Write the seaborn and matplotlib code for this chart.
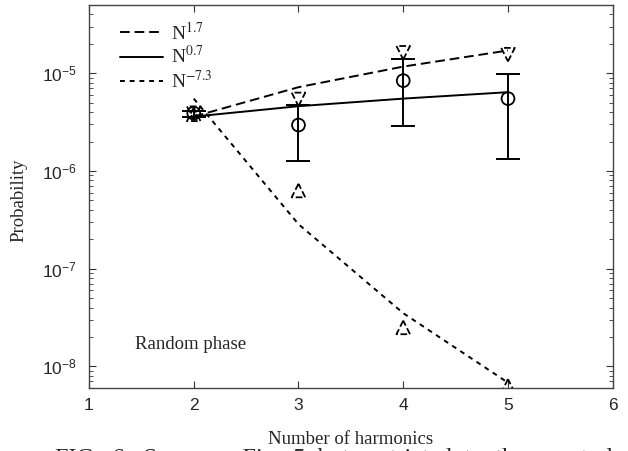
import matplotlib
matplotlib.use('Agg')
import matplotlib.pyplot as plt
import seaborn as sns
from matplotlib.lines import Line2D

# 数据
harmonics = [2, 3, 4, 5]
p_circle = [3.9e-6, 2.95e-6, 8.4e-6, 5.5e-6]
err_lo = [3.55e-6, 1.26e-6, 2.86e-6, 1.31e-6]
err_hi = [4.15e-6, 4.7e-6, 1.41e-5, 9.9e-6]
p_down = [3.9e-6, 5.4e-6, 1.62e-5, 1.55e-5]
p_up = [3.8e-6, 6.3e-7, 2.5e-8, 6.3e-9]
fit_17 = [3.6e-6, 7.2e-6, 1.17e-5, 1.71e-5]
fit_07 = [3.6e-6, 4.6e-6, 5.5e-6, 6.4e-6]
fit_m73 = [5.5e-6, 2.85e-7, 3.5e-8, 6.8e-9]
fit_labels = [r'N$^{1.7}$', r'N$^{0.7}$', r'N$^{-7.3}$']

sns.set_style('ticks')
plt.rcParams['font.family'] = ['Liberation Sans', 'DejaVu Sans']

fig = plt.figure(figsize=(6.28, 4.51), dpi=100)
ax = fig.add_axes([0.1417, 0.1397, 0.8340, 0.8493])

long_dash = (0, (5, 2.5))
short_dash = (0, (2.5, 2.5))

sns.lineplot(x=harmonics, y=fit_17, ax=ax, color='k', lw=1.4, linestyle=long_dash)
sns.lineplot(x=harmonics, y=fit_07, ax=ax, color='k', lw=1.4, linestyle='-')
sns.lineplot(x=harmonics, y=fit_m73, ax=ax, color='k', lw=1.4, linestyle=short_dash)

# 误差棒
yerr = [[c - lo for c, lo in zip(p_circle, err_lo)],
        [hi - c for c, hi in zip(p_circle, err_hi)]]
ax.errorbar(harmonics, p_circle, yerr=yerr, fmt='none', ecolor='k',
            elinewidth=1.4, capsize=8.3, capthick=1.4)

sns.scatterplot(x=harmonics, y=p_circle, ax=ax, marker='o', s=85,
                facecolors='none', edgecolor='k', linewidth=1.3, zorder=5)
sns.scatterplot(x=harmonics, y=p_down, ax=ax, marker='v', s=95,
                facecolors='none', edgecolor='k', linewidth=1.3,
                linestyle='--', zorder=5)
sns.scatterplot(x=harmonics, y=p_up, ax=ax, marker='^', s=95,
                facecolors='none', edgecolor='k', linewidth=1.3,
                linestyle='--', zorder=5)

ax.set_yscale('log')
ax.set_xlim(1, 6)
ax.set_ylim(6e-9, 5e-5)
ax.set_xticks([1, 2, 3, 4, 5, 6])
ax.tick_params(which='both', direction='in', top=True, right=True,
               labelsize=12.5, color='#333333')
ax.tick_params(which='major', length=5)
ax.tick_params(which='minor', length=3)
ax.tick_params(axis='x', which='major', pad=7.5)
ax.tick_params(axis='y', which='major', pad=9)
for s in ax.spines.values():
    s.set_color('#444444')
    s.set_linewidth(1.0)

ax.set_xlabel('Number of harmonics', family='Liberation Serif', fontsize=13.5)
ax.set_ylabel('Probability', family='Liberation Serif', fontsize=13.5)
ax.xaxis.set_label_coords(0.499, -0.112)
ax.yaxis.set_label_coords(-0.117, 0.49)

ax.text(1.44, 1.5e-8, 'Random phase', family='Liberation Serif', fontsize=13.5,
        va='baseline')

# 图例
handles = [Line2D([], [], color='k', lw=1.4, linestyle=long_dash),
           Line2D([], [], color='k', lw=1.4, linestyle='-'),
           Line2D([], [], color='k', lw=1.4, linestyle=short_dash)]
leg = ax.legend(handles, fit_labels, loc='upper left', frameon=False,
                prop={'family': 'Liberation Serif', 'size': 14},
                handlelength=2.2, handletextpad=0.45, labelspacing=0.12,
                borderaxespad=0.0, bbox_to_anchor=(0.044, 0.978))
for t in leg.get_texts():
    t.set_math_fontfamily('stix')

# 图下方被截断的题注
fig.text(0.088, 0.006, 'FIG.  6:  Same  as  Fig.  5  but  restricted  to  the  spectral',
         family='Liberation Serif', fontsize=17.5, va='top')

fig.savefig('out.png', dpi=100)
